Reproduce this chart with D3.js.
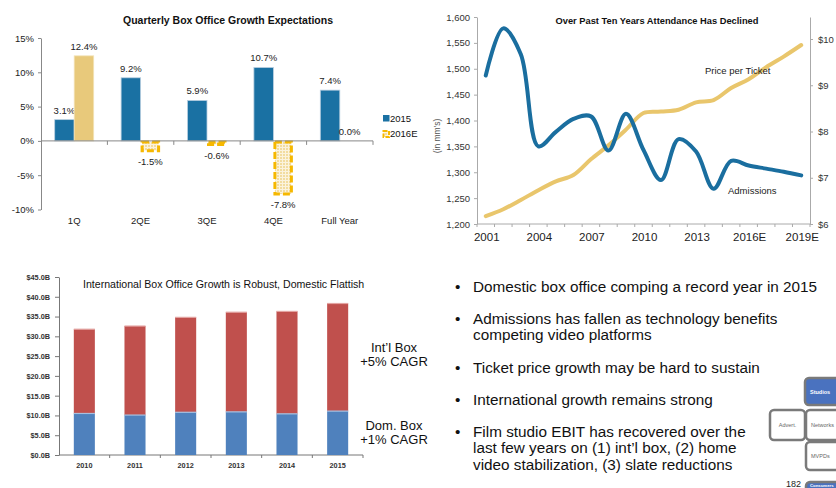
<!DOCTYPE html>
<html>
<head>
<meta charset="utf-8">
<script src="https://cdn.jsdelivr.net/npm/d3@7/dist/d3.min.js"></script>
<style>
  html, body { margin: 0; padding: 0; background: #ffffff; }
  svg { display: block; font-family: "Liberation Sans", Arial, sans-serif; }
</style>
</head>
<body>
<script>
// ---------------- DATA ----------------
const qCategories = ["1Q", "2QE", "3QE", "4QE", "Full Year"];
const qSeries = ["2015", "2016E"];
const q2015 = [3.1, 9.2, 5.9, 10.7, 7.4];
const q2016E = [12.4, -1.5, -0.6, -7.8, 0.0];
const qTicks = [-10, -5, 0, 5, 10, 15];

const attYears = ["2001","2002","2003","2004","2005","2006","2007","2008","2009","2010",
                  "2011","2012","2013","2014","2015","2016E","2017E","2018E","2019E"];
const attLabelYears = ["2001","2004","2007","2010","2013","2016E","2019E"];
const admissions = [1487, 1578, 1528, 1350, 1378, 1403, 1408, 1342, 1413, 1343,
                    1285, 1364, 1340, 1268, 1322, 1313, 1307, 1301, 1294];
const pricePerTicket = [6.17, 6.32, 6.52, 6.73, 6.92, 7.06, 7.40, 7.70, 8.04, 8.40,
                        8.43, 8.47, 8.63, 8.68, 8.94, 9.13, 9.39, 9.62, 9.87];
const admTicks = [1200,1250,1300,1350,1400,1450,1500,1550,1600];
const priceTicks = [6, 7, 8, 9, 10];

const boxYears = ["2010","2011","2012","2013","2014","2015"];
const domesticBox = [10.5, 10.1, 10.8, 10.9, 10.4, 11.1];
const intlBox = [21.3, 22.5, 24.0, 25.2, 25.9, 27.2];
const boxTicks = [0,5,10,15,20,25,30,35,40,45];

const bullets = [
  ["Domestic box office comping a record year in 2015"],
  ["Admissions has fallen as technology benefits", "competing video platforms"],
  ["Ticket price growth may be hard to sustain"],
  ["International growth remains strong"],
  ["Film studio EBIT has recovered over the", "last few years on (1) int\u2019l box, (2) home", "video stabilization, (3) slate reductions"]
];

// ---------------- SVG ----------------
const W = 836, H = 488;
const svg = d3.select("body").append("svg").attr("width", W).attr("height", H);
svg.append("rect").attr("width", W).attr("height", H).attr("fill", "#fff");

const defs = svg.append("defs");
const pat = defs.append("pattern").attr("id", "grid16").attr("patternUnits", "userSpaceOnUse")
  .attr("width", 3).attr("height", 3);
pat.append("rect").attr("width", 3).attr("height", 3).attr("fill", "#f2dca0");
pat.append("path").attr("d", "M0,0.5H3M0.5,0V3").attr("stroke", "#fbf3de").attr("stroke-width", 1);

const BLUE = "#1a71a3", GOLD = "#e8c97b", GOLD_DASH = "#f6b800";

// ================= CHART 1 =================
(function () {
  const g = svg.append("g");
  const x = d3.scaleBand().domain(qCategories).range([41, 373]);
  const y = d3.scaleLinear().domain([-10, 15]).range([209.5, 38]);
  const groupW = 39;
  const xs = d3.scaleBand().domain(qSeries).range([0, groupW]);
  const off = (x.bandwidth() - groupW) / 2;

  g.append("text").attr("x", 228).attr("y", 24).attr("text-anchor", "middle")
    .attr("font-size", 10.5).attr("font-weight", "bold").attr("fill", "#111")
    .text("Quarterly Box Office Growth Expectations");

  const yAxis = g.append("g").attr("transform", "translate(41,0)")
    .call(d3.axisLeft(y).tickValues(qTicks).tickFormat(d => d + "%").tickSize(3).tickPadding(4).tickSizeOuter(0));
  yAxis.select(".domain").attr("stroke", "#888");
  yAxis.selectAll(".tick line").attr("stroke", "#888");
  yAxis.selectAll("text").attr("font-size", 9.5).attr("fill", "#222").attr("font-family", "Liberation Sans, Arial");

  const data = qCategories.map((c, i) => ({ c, v: [q2015[i], q2016E[i]] }));
  data.forEach(d => {
    qSeries.forEach((s, si) => {
      const v = d.v[si];
      const bx = x(d.c) + off + xs(s);
      const top = y(Math.max(0, v)), bot = y(Math.min(0, v));
      if (s === "2015") {
        g.append("rect").attr("x", bx).attr("y", top).attr("width", xs.bandwidth()).attr("height", bot - top)
          .attr("fill", BLUE).attr("stroke", "#b9cfe0").attr("stroke-width", 0.8);
      } else if (v > 0) {
        g.append("rect").attr("x", bx).attr("y", top).attr("width", xs.bandwidth()).attr("height", bot - top)
          .attr("fill", GOLD).attr("stroke", "#f3e3b8").attr("stroke-width", 0.8);
      } else if (v < 0) {
        g.append("rect").attr("x", bx + 1.5).attr("y", top + 1).attr("width", xs.bandwidth() - 3).attr("height", Math.max(1, bot - top - 1.5))
          .attr("fill", "url(#grid16)").attr("stroke", GOLD_DASH).attr("stroke-width", 3)
          .attr("stroke-dasharray", "7,3");
      }
      const lx = bx + xs.bandwidth() / 2;
      const ly = v >= 0 ? y(v) - 6 : y(v) + 14;
      g.append("text").attr("x", lx).attr("y", ly).attr("text-anchor", "middle")
        .attr("font-size", 9.5).attr("fill", "#222").text(v.toFixed(1) + "%");
    });
  });

  g.append("line").attr("x1", 41).attr("x2", 373).attr("y1", y(0)).attr("y2", y(0)).attr("stroke", "#888");
  qCategories.forEach(c => {
    const tx = x(c) + x.bandwidth();
    g.append("line").attr("x1", tx).attr("x2", tx).attr("y1", y(0)).attr("y2", y(0) + 4).attr("stroke", "#888");
    g.append("text").attr("x", x(c) + x.bandwidth() / 2).attr("y", 224).attr("text-anchor", "middle")
      .attr("font-size", 9.5).attr("fill", "#222").text(c);
  });

  g.append("rect").attr("x", 383).attr("y", 115).attr("width", 6.5).attr("height", 6.5).attr("fill", BLUE);
  g.append("text").attr("x", 390).attr("y", 122).attr("font-size", 9.5).attr("fill", "#111").text("2015");
  g.append("rect").attr("x", 383.5).attr("y", 131).attr("width", 5.5).attr("height", 6).attr("fill", "url(#grid16)")
    .attr("stroke", GOLD_DASH).attr("stroke-width", 2).attr("stroke-dasharray", "4,1.5");
  g.append("text").attr("x", 390).attr("y", 137).attr("font-size", 9.5).attr("fill", "#111").text("2016E");
})();

// ================= CHART 2 =================
(function () {
  const g = svg.append("g");
  const x = d3.scaleBand().domain(attYears).range([477, 810]);
  const yL = d3.scaleLinear().domain([1200, 1600]).range([224, 17]);
  const perDollar = (224 - 39) / 4;
  const yR = d3.scaleLinear().domain([6, 6 + (224 - 17) / perDollar]).range([224, 17]);
  const cx = d => x(d) + x.bandwidth() / 2;

  const la = g.append("g").attr("transform", "translate(477,0)")
    .call(d3.axisLeft(yL).tickValues(admTicks).tickFormat(d3.format(",")).tickSize(3).tickPadding(4).tickSizeOuter(0));
  la.select(".domain").attr("stroke", "#aaa");
  la.selectAll(".tick line").attr("stroke", "#aaa");
  la.selectAll("text").attr("font-size", 9.5).attr("fill", "#333").attr("font-family", "Liberation Sans, Arial");

  const ra = g.append("g").attr("transform", "translate(810,0)")
    .call(d3.axisRight(yR).tickValues(priceTicks).tickFormat(d => "$" + d).tickSize(3).tickPadding(5).tickSizeOuter(0));
  ra.select(".domain").attr("stroke", "#aaa");
  ra.selectAll(".tick line").attr("stroke", "#aaa");
  ra.selectAll("text").attr("font-size", 9.5).attr("fill", "#333").attr("font-family", "Liberation Sans, Arial");

  g.append("line").attr("x1", 477).attr("x2", 810).attr("y1", 224).attr("y2", 224).attr("stroke", "#aaa");
  attYears.forEach(yr => {
    const tx = x(yr);
    g.append("line").attr("x1", tx).attr("x2", tx).attr("y1", 224).attr("y2", 227).attr("stroke", "#aaa");
  });
  g.append("line").attr("x1", 810).attr("x2", 810).attr("y1", 224).attr("y2", 227).attr("stroke", "#aaa");
  attLabelYears.forEach(yr => {
    g.append("text").attr("x", cx(yr) + 1).attr("y", 241).attr("text-anchor", "middle")
      .attr("font-size", 11.5).attr("fill", "#222").text(yr);
  });

  g.append("text").attr("transform", "translate(440,136) rotate(-90)").attr("text-anchor", "middle")
    .attr("font-size", 8.5).attr("fill", "#555").text("(in mm's)");

  g.append("text").attr("x", 657).attr("y", 24).attr("text-anchor", "middle")
    .attr("font-size", 9.3).attr("font-weight", "bold").attr("fill", "#111")
    .text("Over Past Ten Years Attendance Has Declined");

  const lineP = d3.line().x((d, i) => cx(attYears[i])).y(d => yR(d)).curve(d3.curveCatmullRom.alpha(0.5));
  g.append("path").attr("d", lineP(pricePerTicket)).attr("fill", "none").attr("stroke", "#e9c66c")
    .attr("stroke-width", 4).attr("stroke-linecap", "round").attr("stroke-linejoin", "round");

  const lineA = d3.line().x((d, i) => cx(attYears[i])).y(d => yL(d)).curve(d3.curveCatmullRom.alpha(0.5));
  g.append("path").attr("d", lineA(admissions)).attr("fill", "none").attr("stroke", "#1a6e9f")
    .attr("stroke-width", 4).attr("stroke-linecap", "round").attr("stroke-linejoin", "round");

  g.append("text").attr("x", 705).attr("y", 74).attr("font-size", 9.5).attr("fill", "#222").text("Price per Ticket");
  g.append("text").attr("x", 728).attr("y", 194).attr("font-size", 9.5).attr("fill", "#222").text("Admissions");
})();

// ================= CHART 3 =================
(function () {
  const g = svg.append("g");
  const x = d3.scaleBand().domain(boxYears).range([59, 363]).paddingInner(0.585).paddingOuter(0.29);
  const y = d3.scaleLinear().domain([0, 45]).range([455, 277]);

  const ya = g.append("g").attr("transform", "translate(59,0)")
    .call(d3.axisLeft(y).tickValues(boxTicks).tickFormat(d => "$" + d.toFixed(1) + "B").tickSize(4).tickPadding(5).tickSizeOuter(0));
  ya.select(".domain").attr("stroke", "#777");
  ya.selectAll(".tick line").attr("stroke", "#777");
  ya.selectAll("text").attr("font-size", 7.3).attr("font-weight", "bold").attr("fill", "#333")
    .attr("font-family", "Liberation Sans, Arial");

  g.append("line").attr("x1", 59).attr("x2", 363).attr("y1", 455).attr("y2", 455).attr("stroke", "#777");
  const step = (363 - 59) / boxYears.length;
  boxYears.forEach((yr, i) => {
    const tx = 59 + step * (i + 1);
    g.append("line").attr("x1", tx).attr("x2", tx).attr("y1", 455).attr("y2", 458).attr("stroke", "#777");
    g.append("text").attr("x", 59 + step * (i + 0.5)).attr("y", 468).attr("text-anchor", "middle")
      .attr("font-size", 7.3).attr("font-weight", "bold").attr("fill", "#333").text(yr);
  });

  boxYears.forEach((yr, i) => {
    const bx = 59 + step * (i + 0.5) - x.bandwidth() / 2;
    const d = domesticBox[i], t = domesticBox[i] + intlBox[i];
    g.append("rect").attr("x", bx).attr("y", y(t)).attr("width", x.bandwidth()).attr("height", y(d) - y(t))
      .attr("fill", "#c0504d");
    g.append("line").attr("x1", bx).attr("x2", bx + x.bandwidth()).attr("y1", y(t)).attr("y2", y(t))
      .attr("stroke", "#e3a3a1").attr("stroke-width", 1.2);
    g.append("rect").attr("x", bx).attr("y", y(d)).attr("width", x.bandwidth()).attr("height", y(0) - y(d))
      .attr("fill", "#4f81bd");
    g.append("line").attr("x1", bx).attr("x2", bx + x.bandwidth()).attr("y1", y(d)).attr("y2", y(d))
      .attr("stroke", "#a7bfdf").attr("stroke-width", 1.2);
  });

  g.append("text").attr("x", 83).attr("y", 288).attr("font-size", 10.6).attr("fill", "#111")
    .text("International Box Office Growth is Robust, Domestic Flattish");

  const lab = [["Int\u2019l Box", 352], ["+5% CAGR", 366], ["Dom. Box", 430], ["+1% CAGR", 444]];
  lab.forEach(([t, yy]) => {
    g.append("text").attr("x", 394).attr("y", yy).attr("text-anchor", "middle")
      .attr("font-size", 13).attr("fill", "#111").text(t);
  });
})();

// ================= BULLETS =================
(function () {
  const g = svg.append("g");
  const starts = [292, 324, 373, 405, 437];
  bullets.forEach((lines, i) => {
    g.append("text").attr("x", 455).attr("y", starts[i]).attr("font-size", 15.3).attr("fill", "#111").text("\u2022");
    lines.forEach((ln, j) => {
      g.append("text").attr("x", 473).attr("y", starts[i] + j * 16.3).attr("font-size", 15.3)
        .attr("fill", "#111").text(ln);
    });
  });

  const boxes = [
    { t: "Studios", x: 805, y: 378, w: 40, h: 27, blue: true },
    { t: "Advert.", x: 770, y: 410, w: 35, h: 30, blue: false, mid: true },
    { t: "Networks", x: 806, y: 410, w: 40, h: 30, blue: false },
    { t: "MVPDs", x: 806, y: 442, w: 40, h: 28, blue: false },
    { t: "Consumers", x: 806, y: 482, w: 40, h: 20, blue: true }
  ];
  boxes.forEach(b => {
    g.append("rect").attr("x", b.x).attr("y", b.y).attr("width", b.w).attr("height", b.h).attr("rx", 4)
      .attr("fill", b.blue ? "#4a72bf" : "#fff").attr("stroke", "#7a7a7a").attr("stroke-width", 2.5);
    const small = b.h < 22;
    g.append("text").attr("x", b.mid ? b.x + b.w / 2 : b.x + (small ? 4 : 5)).attr("y", b.y + (small ? 5.3 : b.h / 2 + 2))
      .attr("text-anchor", b.mid ? "middle" : "start")
      .attr("font-size", small ? 4.3 : 5.5).attr("font-weight", b.blue ? "bold" : "normal")
      .attr("fill", b.blue ? "#fff" : "#666").text(b.t);
  });
  g.append("text").attr("x", 786).attr("y", 487).attr("font-size", 9).attr("fill", "#222").text("182");
})();
</script>
</body>
</html>
